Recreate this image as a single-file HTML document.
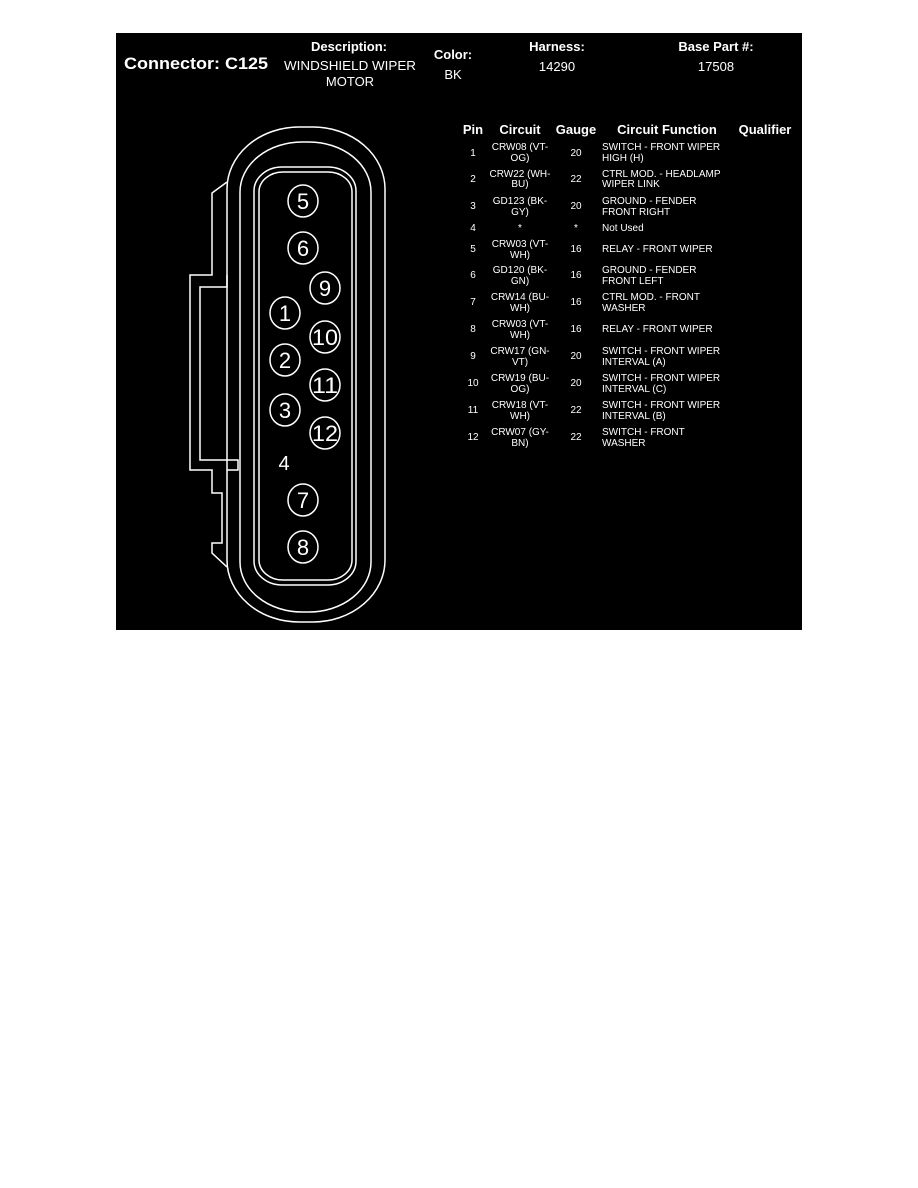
<!DOCTYPE html>
<html><head><meta charset="utf-8"><style>
html,body{margin:0;padding:0;background:#fff;width:918px;height:1188px;overflow:hidden}
svg{display:block}
text{font-family:"Liberation Sans",sans-serif;fill:#fff}
.h{font-weight:bold;font-size:13px}
.t{font-size:10px}
</style></head><body>
<svg width="918" height="1188" viewBox="0 0 918 1188">
<rect x="116" y="33" width="686" height="597" fill="#000"/>
<!-- header -->
<text x="124" y="69" font-size="17" font-weight="bold" textLength="144" lengthAdjust="spacingAndGlyphs">Connector: C125</text>
<text x="349" y="51" class="h" text-anchor="middle" textLength="76" lengthAdjust="spacingAndGlyphs">Description:</text>
<text x="350" y="70" font-size="13" text-anchor="middle" textLength="132" lengthAdjust="spacingAndGlyphs">WINDSHIELD WIPER</text>
<text x="350" y="86" font-size="13" text-anchor="middle">MOTOR</text>
<text x="453" y="59" class="h" text-anchor="middle">Color:</text>
<text x="453" y="79" font-size="13" text-anchor="middle">BK</text>
<text x="557" y="51" class="h" text-anchor="middle">Harness:</text>
<text x="557" y="71" font-size="13" text-anchor="middle">14290</text>
<text x="716" y="51" class="h" text-anchor="middle">Base Part #:</text>
<text x="716" y="71" font-size="13" text-anchor="middle">17508</text>
<!-- connector drawing -->
<g fill="none" stroke="#fff" stroke-width="1.5">
<rect x="227" y="127" width="158" height="495" rx="72" ry="62"/>
<rect x="240" y="142" width="131" height="470" rx="62" ry="50"/>
<rect x="254" y="167" width="102" height="418" rx="28" ry="24"/>
<rect x="259" y="172" width="93" height="408" rx="24" ry="20"/>
<polyline points="227,182 212,193 212,275 190,275 190,470 212,470 212,493 222,493 222,543 212,543 212,553 227,567"/>
<polyline points="227,275 227,287 200,287 200,460 238,460 238,470 227,470"/>
</g>
<g fill="none" stroke="#fff" stroke-width="1.5">
<ellipse cx="303" cy="201" rx="15" ry="16"/>
<ellipse cx="303" cy="248" rx="15" ry="16"/>
<ellipse cx="325" cy="288" rx="15" ry="16"/>
<ellipse cx="285" cy="313" rx="15" ry="16"/>
<ellipse cx="325" cy="337" rx="15" ry="16"/>
<ellipse cx="285" cy="360" rx="15" ry="16"/>
<ellipse cx="325" cy="385" rx="15" ry="16"/>
<ellipse cx="285" cy="410" rx="15" ry="16"/>
<ellipse cx="325" cy="433" rx="15" ry="16"/>
<ellipse cx="303" cy="500" rx="15" ry="16"/>
<ellipse cx="303" cy="547" rx="15" ry="16"/>
</g>
<g font-size="22" text-anchor="middle">
<text x="303" y="209">5</text>
<text x="303" y="256">6</text>
<text x="325" y="296">9</text>
<text x="285" y="321">1</text>
<text x="325" y="345" textLength="26" lengthAdjust="spacingAndGlyphs">10</text>
<text x="285" y="368">2</text>
<text x="325" y="393" textLength="26" lengthAdjust="spacingAndGlyphs">11</text>
<text x="285" y="418">3</text>
<text x="325" y="441" textLength="26" lengthAdjust="spacingAndGlyphs">12</text>
<text x="284" y="470" font-size="20">4</text>
<text x="303" y="508">7</text>
<text x="303" y="555">8</text>
</g>
<!-- table header -->
<g class="h" text-anchor="middle">
<text x="473" y="134" class="h">Pin</text>
<text x="520" y="134" class="h">Circuit</text>
<text x="576" y="134" class="h">Gauge</text>
<text x="667" y="134" class="h">Circuit Function</text>
<text x="765" y="134" class="h">Qualifier</text>
</g>
<g class="t">
<text x="473" y="156" text-anchor="middle" class="t">1</text><text x="520" y="150" text-anchor="middle" class="t">CRW08 (VT-</text><text x="520" y="161" text-anchor="middle" class="t">OG)</text><text x="576" y="156" text-anchor="middle" class="t">20</text><text x="602" y="150" class="t">SWITCH - FRONT WIPER</text><text x="602" y="161" class="t">HIGH (H)</text>
<text x="473" y="182" text-anchor="middle" class="t">2</text><text x="520" y="177" text-anchor="middle" class="t">CRW22 (WH-</text><text x="520" y="187" text-anchor="middle" class="t">BU)</text><text x="576" y="182" text-anchor="middle" class="t">22</text><text x="602" y="177" class="t">CTRL MOD. - HEADLAMP</text><text x="602" y="187" class="t">WIPER LINK</text>
<text x="473" y="209" text-anchor="middle" class="t">3</text><text x="520" y="204" text-anchor="middle" class="t">GD123 (BK-</text><text x="520" y="215" text-anchor="middle" class="t">GY)</text><text x="576" y="209" text-anchor="middle" class="t">20</text><text x="602" y="204" class="t">GROUND - FENDER</text><text x="602" y="215" class="t">FRONT RIGHT</text>
<text x="473" y="231" text-anchor="middle" class="t">4</text><text x="520" y="231" text-anchor="middle" class="t">*</text><text x="576" y="231" text-anchor="middle" class="t">*</text><text x="602" y="231" class="t">Not Used</text>
<text x="473" y="252" text-anchor="middle" class="t">5</text><text x="520" y="247" text-anchor="middle" class="t">CRW03 (VT-</text><text x="520" y="258" text-anchor="middle" class="t">WH)</text><text x="576" y="252" text-anchor="middle" class="t">16</text><text x="602" y="252" class="t">RELAY - FRONT WIPER</text>
<text x="473" y="278" text-anchor="middle" class="t">6</text><text x="520" y="273" text-anchor="middle" class="t">GD120 (BK-</text><text x="520" y="284" text-anchor="middle" class="t">GN)</text><text x="576" y="278" text-anchor="middle" class="t">16</text><text x="602" y="273" class="t">GROUND - FENDER</text><text x="602" y="284" class="t">FRONT LEFT</text>
<text x="473" y="305" text-anchor="middle" class="t">7</text><text x="520" y="300" text-anchor="middle" class="t">CRW14 (BU-</text><text x="520" y="311" text-anchor="middle" class="t">WH)</text><text x="576" y="305" text-anchor="middle" class="t">16</text><text x="602" y="300" class="t">CTRL MOD. - FRONT</text><text x="602" y="311" class="t">WASHER</text>
<text x="473" y="332" text-anchor="middle" class="t">8</text><text x="520" y="327" text-anchor="middle" class="t">CRW03 (VT-</text><text x="520" y="338" text-anchor="middle" class="t">WH)</text><text x="576" y="332" text-anchor="middle" class="t">16</text><text x="602" y="332" class="t">RELAY - FRONT WIPER</text>
<text x="473" y="359" text-anchor="middle" class="t">9</text><text x="520" y="354" text-anchor="middle" class="t">CRW17 (GN-</text><text x="520" y="365" text-anchor="middle" class="t">VT)</text><text x="576" y="359" text-anchor="middle" class="t">20</text><text x="602" y="354" class="t">SWITCH - FRONT WIPER</text><text x="602" y="365" class="t">INTERVAL (A)</text>
<text x="473" y="386" text-anchor="middle" class="t">10</text><text x="520" y="381" text-anchor="middle" class="t">CRW19 (BU-</text><text x="520" y="392" text-anchor="middle" class="t">OG)</text><text x="576" y="386" text-anchor="middle" class="t">20</text><text x="602" y="381" class="t">SWITCH - FRONT WIPER</text><text x="602" y="392" class="t">INTERVAL (C)</text>
<text x="473" y="413" text-anchor="middle" class="t">11</text><text x="520" y="408" text-anchor="middle" class="t">CRW18 (VT-</text><text x="520" y="419" text-anchor="middle" class="t">WH)</text><text x="576" y="413" text-anchor="middle" class="t">22</text><text x="602" y="408" class="t">SWITCH - FRONT WIPER</text><text x="602" y="419" class="t">INTERVAL (B)</text>
<text x="473" y="440" text-anchor="middle" class="t">12</text><text x="520" y="435" text-anchor="middle" class="t">CRW07 (GY-</text><text x="520" y="446" text-anchor="middle" class="t">BN)</text><text x="576" y="440" text-anchor="middle" class="t">22</text><text x="602" y="435" class="t">SWITCH - FRONT</text><text x="602" y="446" class="t">WASHER</text>
</g>
</svg>
</body></html>
